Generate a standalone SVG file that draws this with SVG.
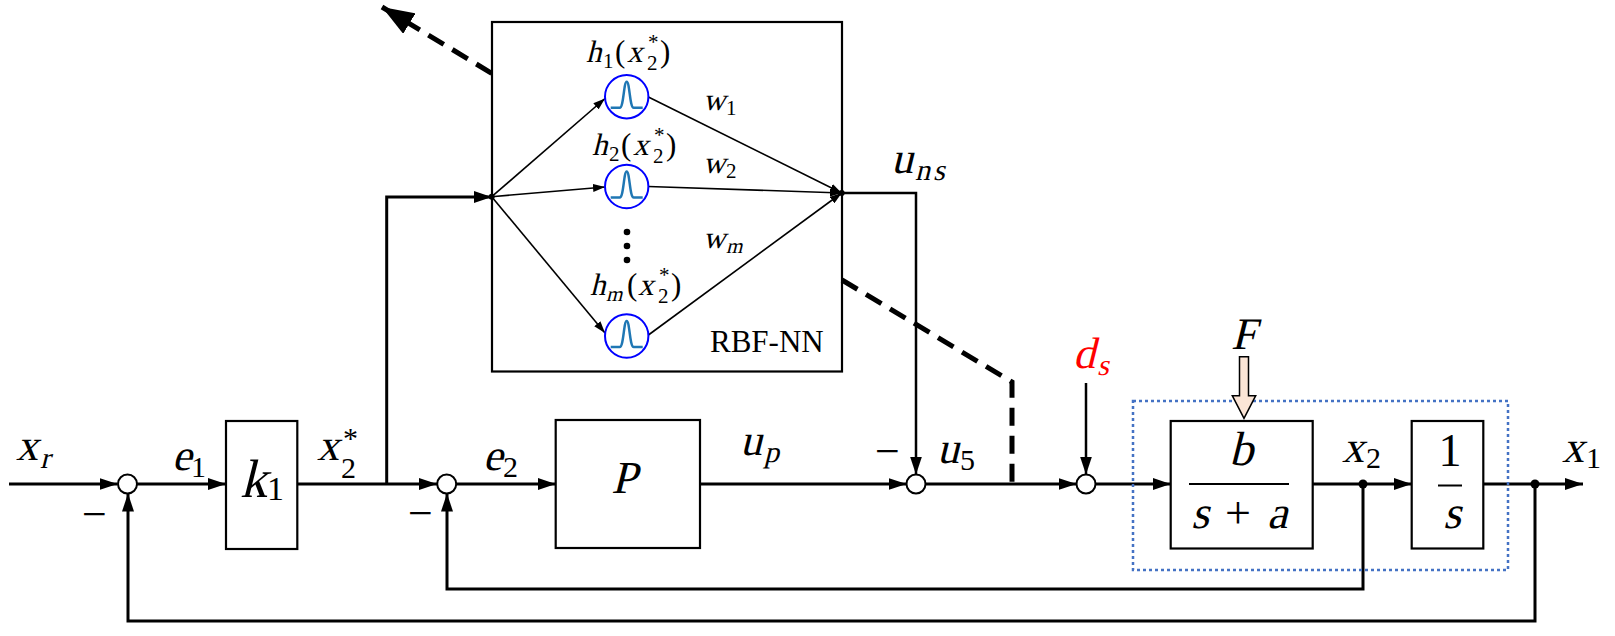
<svg xmlns="http://www.w3.org/2000/svg" width="1615" height="636" viewBox="0 0 1615 636">
<style>
.ln{stroke:#000;stroke-width:3;fill:none}
.ln2{stroke:#000;stroke-width:2.5;fill:none}
.thin{stroke:#000;stroke-width:1.6;fill:none}
.box{fill:#fff;stroke:#000;stroke-width:2.2}
.sum{fill:#fff;stroke:#000;stroke-width:2}
.dash{stroke:#000;stroke-width:5;stroke-dasharray:18 10;fill:none}
.neur{fill:#fff;stroke:#0000ff;stroke-width:2}
.gauss{fill:none;stroke:#1f77b4;stroke-width:2.5}
text{font-family:"Liberation Serif","Times New Roman",serif;font-style:normal;fill:#000}
.L{font-size:44px}
.S{font-size:30px}
.h{font-size:31px}
.hs{font-size:21px}
.red{fill:#ff0000}
</style>
<defs>
<marker id="a" markerUnits="userSpaceOnUse" markerWidth="18" markerHeight="12" refX="18" refY="6" orient="auto"><path d="M0,0 L18,6 L0,12 z" fill="#000"/></marker>
<marker id="as" markerUnits="userSpaceOnUse" markerWidth="12" markerHeight="8" refX="12" refY="4" orient="auto"><path d="M0,0 L12,4 L0,8 z" fill="#000"/></marker>
<marker id="ab" markerUnits="userSpaceOnUse" markerWidth="32" markerHeight="24" refX="32" refY="12" orient="auto"><path d="M0,0 L32,12 L0,24 z" fill="#000"/></marker>
<path id="g" d="M-16,11 L-7,11 C-3,11 -3,-15 0,-15 C3,-15 3,11 7,11 L16,11"/>
</defs>

<g id="connectors">
<path class="ln" d="M9,484 H117.5" marker-end="url(#a)"/>
<path class="ln" d="M137,484 H226" marker-end="url(#a)"/>
<path class="ln" d="M297,484 H437" marker-end="url(#a)"/>
<path class="ln" d="M456,484 H555.7" marker-end="url(#a)"/>
<path class="ln" d="M700,484 H906.5" marker-end="url(#a)"/>
<path class="ln" d="M925.5,484 H1076.5" marker-end="url(#a)"/>
<path class="ln" d="M1095.5,484 H1170.7" marker-end="url(#a)"/>
<path class="ln" d="M1312.7,484 H1411.7" marker-end="url(#a)"/>
<path class="ln" d="M1483.3,484 H1583" marker-end="url(#a)"/>
<path class="ln" d="M1535,484 V621 H128 V493.5" marker-end="url(#a)"/>
<path class="ln" d="M1363,484 V589 H447 V493.5" marker-end="url(#a)"/>
<path class="ln" d="M386.7,484 V197 H491.7" marker-end="url(#a)"/>
<path class="ln2" d="M841.7,193 H916 V474.5" marker-end="url(#a)"/>
<path class="ln2" d="M1086,383 V474.5" marker-end="url(#a)"/>
<path class="dash" d="M491.7,73.3 L382,7" marker-end="url(#ab)"/>
<path class="dash" d="M842,280 L1012,382 V484"/>
<path class="thin" d="M491.7,196.7 L605,98.5" marker-end="url(#as)"/>
<path class="thin" d="M491.7,196.7 L605,187" marker-end="url(#as)"/>
<path class="thin" d="M491.7,196.7 L605,333" marker-end="url(#as)"/>
<path class="thin" d="M648.4,97 L841.7,193" marker-end="url(#as)"/>
<path class="thin" d="M648.4,186.5 L841.7,193" marker-end="url(#as)"/>
<path class="thin" d="M648.4,335 L841.7,193" marker-end="url(#as)"/>
</g>

<g id="rbf">
<rect x="492" y="22" width="350" height="349.5" fill="none" stroke="#000" stroke-width="2.2"/>
<circle cx="491.7" cy="196.7" r="3" fill="#000"/>
<circle cx="841.7" cy="193" r="3" fill="#000"/>
<text x="710" y="352" style="font-size:31px">RBF-NN</text>
</g>

<g id="neuron1">
<circle class="neur" cx="626.7" cy="96.7" r="21.7"/>
<use href="#g" class="gauss" x="626.7" y="96.7"/>
<text class="h" transform="translate(586 62) skewX(-14)">h</text>
<text><tspan class="hs" x="603" y="68">1</tspan><tspan class="h" x="615" y="62">(</tspan></text>
<text class="h" transform="translate(627 62) skewX(-14)">x</text>
<text><tspan class="hs" x="648" y="49">*</tspan><tspan class="hs" x="647" y="70">2</tspan><tspan class="h" x="660" y="62">)</tspan></text>
</g>
<g id="neuron2">
<circle class="neur" cx="626.7" cy="186.5" r="21.7"/>
<use href="#g" class="gauss" x="626.7" y="186.5"/>
<text class="h" transform="translate(592 155) skewX(-14)">h</text>
<text><tspan class="hs" x="609" y="161">2</tspan><tspan class="h" x="621" y="155">(</tspan></text>
<text class="h" transform="translate(633 155) skewX(-14)">x</text>
<text><tspan class="hs" x="654" y="142">*</tspan><tspan class="hs" x="653" y="163">2</tspan><tspan class="h" x="666" y="155">)</tspan></text>
</g>
<g id="dots">
<circle cx="627" cy="232" r="3.3" fill="#000"/>
<circle cx="627" cy="246" r="3.3" fill="#000"/>
<circle cx="627" cy="260" r="3.3" fill="#000"/>
</g>
<g id="neuronm">
<circle class="neur" cx="626.7" cy="336" r="21.7"/>
<use href="#g" class="gauss" x="626.7" y="336"/>
<text class="h" transform="translate(590 295) skewX(-14)">h</text>
<text class="hs" transform="translate(606 301) skewX(-14)">m</text>
<text class="h" x="627" y="295">(</text>
<text class="h" transform="translate(638 295) skewX(-14)">x</text>
<text><tspan class="hs" x="659" y="282">*</tspan><tspan class="hs" x="658" y="303">2</tspan><tspan class="h" x="671" y="295">)</tspan></text>
</g>
<g id="weights">
<text class="h" transform="translate(703 110) skewX(-14)">w</text><text class="hs" x="726" y="115">1</text>
<text class="h" transform="translate(703 173) skewX(-14)">w</text><text class="hs" x="726" y="178">2</text>
<text class="h" transform="translate(703 248) skewX(-14)">w</text><text class="hs" transform="translate(726 253) skewX(-14)">m</text>
</g>

<g id="sum1"><circle class="sum" cx="127.5" cy="484" r="9.5"/><text class="L" x="82" y="529">−</text></g>
<g id="k1"><rect class="box" x="226" y="421" width="71.3" height="128"/><text transform="translate(240 497) skewX(-14)" style="font-size:54px">k</text><text x="267" y="500" style="font-size:34px">1</text></g>
<g id="sum2"><circle class="sum" cx="446.7" cy="484" r="9.5"/><text class="L" x="408" y="528">−</text></g>
<g id="P"><rect class="box" x="555.7" y="420" width="144.3" height="128"/><text transform="translate(624 493) skewX(-14)" text-anchor="middle" style="font-size:46px">P</text></g>
<g id="sum3"><circle class="sum" cx="916" cy="484" r="9.5"/><text class="L" x="875" y="466">−</text></g>
<g id="sum4"><circle class="sum" cx="1086" cy="484" r="9.5"/></g>
<g id="plantbox"><rect x="1133" y="401" width="375" height="169" fill="none" stroke="#4472c4" stroke-width="2.5" stroke-dasharray="3 3"/></g>
<g id="plant">
<rect class="box" x="1170.7" y="421" width="142" height="127.5"/>
<text transform="translate(1241 465) skewX(-14)" text-anchor="middle" style="font-size:48px">b</text>
<line x1="1189" y1="484" x2="1289" y2="484" stroke="#000" stroke-width="2"/>
<text transform="translate(1191 528) skewX(-14)" style="font-size:46px">s</text>
<text x="1238" y="528" text-anchor="middle" style="font-size:46px">+</text>
<text transform="translate(1267 528) skewX(-14)" style="font-size:46px">a</text>
</g>
<g id="integrator">
<rect class="box" x="1411.7" y="421" width="71.6" height="127.5"/>
<text x="1450" y="466" text-anchor="middle" style="font-size:46px">1</text>
<line x1="1438" y1="485.5" x2="1462" y2="485.5" stroke="#000" stroke-width="2"/>
<text transform="translate(1452 528) skewX(-14)" text-anchor="middle" style="font-size:46px">s</text>
</g>
<g id="forceF">
<polygon points="1239.5,356.7 1248.5,356.7 1248.5,395.7 1255.7,395.7 1244,418.3 1232.3,395.7 1239.5,395.7" fill="#fbe5d6" stroke="#000" stroke-width="1.5"/>
<text transform="translate(1231 349) skewX(-14)" style="font-size:45px">F</text>
</g>
<g id="nodes">
<circle cx="1363" cy="484" r="4.5" fill="#000"/>
<circle cx="1535" cy="484" r="4.5" fill="#000"/>
</g>

<g id="labels">
<text class="L" transform="translate(16 460) skewX(-14)">x</text><text class="S" transform="translate(40 468) skewX(-14)">r</text>
<text class="L" transform="translate(172 470) skewX(-14)">e</text><text class="S" x="191" y="477">1</text>
<text class="L" transform="translate(317 460) skewX(-14)">x</text><text><tspan class="S" x="343" y="448">*</tspan><tspan class="S" x="341" y="478">2</tspan></text>
<text class="L" transform="translate(483 470) skewX(-14)">e</text><text class="S" x="503" y="477">2</text>
<text class="L" transform="translate(740 455) skewX(-14)">u</text><text class="S" transform="translate(764 462) skewX(-14)">p</text>
<text class="L" transform="translate(891 173) skewX(-14)">u</text><text class="S" transform="translate(915 180) skewX(-14)" letter-spacing="3">ns</text>
<text class="L" transform="translate(937 463) skewX(-14)">u</text><text class="S" x="960" y="470">5</text>
<text class="L red" transform="translate(1073 368) skewX(-14)">d</text><text class="S red" transform="translate(1097 375) skewX(-14)">s</text>
<text class="L" transform="translate(1342 462) skewX(-14)">x</text><text class="S" x="1366" y="468">2</text>
<text class="L" transform="translate(1562 462) skewX(-14)">x</text><text class="S" x="1586" y="468">1</text>
</g>
</svg>
